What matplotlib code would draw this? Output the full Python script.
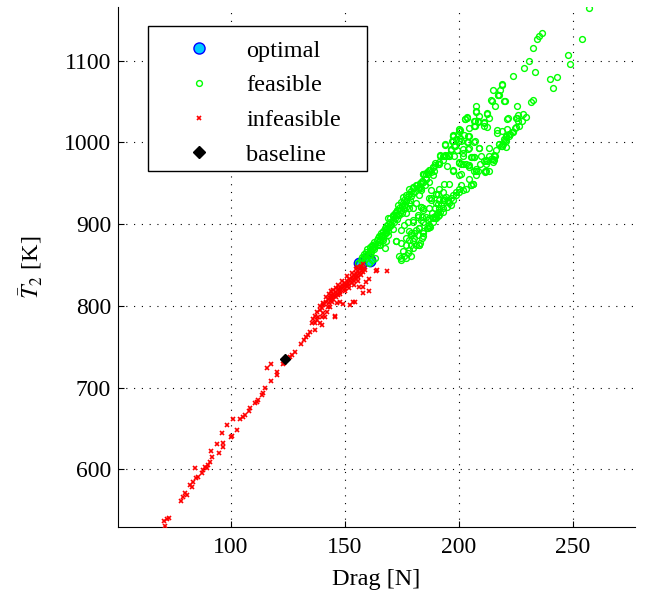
import numpy as np
import matplotlib
matplotlib.use('Agg')
import matplotlib.pyplot as plt
from matplotlib.patches import Rectangle

# values (Drag [N], T2 [K])
optimal_pts = [(156.2, 852.5), (157.3, 851.5), (160.2, 858), (161.0, 856.5), (161.3, 854.5)]

baseline_pts = [(124.0, 735.0)]

feasible_pts = [
    # sparse top end
    (257, 1165), (254, 1127), (236.7, 1133.5), (235.2, 1130), (234.2, 1126.6), (232.8, 1115.7),
    (231.0, 1100), (228.7, 1090.8), (233.5, 1086.7), (248.1, 1106.5), (248.8, 1095.6),
    (223.9, 1081.8), (239.9, 1077.5), (243.2, 1079.9), (241.5, 1066.6), (219.1, 1070.6),
    (218.3, 1064.5), (217.8, 1057.6), (219.8, 1051.2), (232.6, 1051.6), (231.9, 1048.8),
    (225.5, 1044.3), (221.6, 1029.4), (226.1, 1033.1), (228.0, 1035.1), (229.4, 1031),
    (225.5, 1029.4), (227.8, 1026.6), (226.6, 1020.1), (224.6, 1018.2),
    (215.0, 1064.2), (217.4, 1057.6), (214.3, 1052.4), (214.4, 1050.4), (215.7, 1044.3),
    (220.1, 1050.9), (207.8, 1044.3), (207.8, 1037.5), (203.8, 1030.3), (202.9, 1028.2),
    (207.1, 1026.2), (208.6, 1024.9), (210.9, 1025.4), (212.5, 1035.1), (213.4, 1030.3),
    (212.6, 1019.4), (210.9, 1020.1), (207.3, 1020.1), (221.4, 1029), (225.3, 1030.3),
    (225.8, 1026.2), (200.6, 1015.7), (204.5, 1017.3), (199.7, 1010), (200.7, 1004.8),
    (201.0, 1001.9), (202.3, 1008.8), (204.2, 1007.3), (201.7, 992), (204.5, 993.1),
    (197.3, 1008), (197.1, 1001.9), (203.8, 1000), (207.1, 1001.9), (209.0, 993.1),
    (213.2, 993.1), (216.7, 1015.7), (216.9, 1010.9), (219.2, 1013.7), (221.4, 1016.1),
    (222.7, 1010), (223.6, 1012.1), (220.9, 1006.4), (220.4, 1003.1), (219.4, 998),
    (217.8, 998), (218.5, 995.5), (220.9, 994.7), (225.3, 1019.4),
    (207.6, 1038.2), (202.9, 1029), (203.5, 1031), (206.8, 1026.2), (208.3, 1026.2),
    (206.8, 1020.1), (209.0, 1032.2), (212.6, 1036.3), (211.2, 1024.2), (218.9, 1071.4),
    (217.3, 1057.6), (223.3, 1012.9), (222.1, 1010), (220.7, 1008), (219.9, 1004),
    (218.8, 996), (215.6, 983.8), (214.1, 979.8), (215.1, 975.8), (212.6, 977.7),
    (212.0, 973.7), (213.4, 965.6), (211.6, 963.6), (207.6, 967.7), (209.3, 973.7),
    (205.4, 981.8), (206.5, 981.8), (207.6, 959.6), (204.6, 969.7), (203.2, 973.7),
    (201.7, 983.8), (203.9, 992), (209.0, 992.8), (222.1, 1008), (218.9, 995.9),
    (220.7, 1001.9), (217.8, 998),
    # lower branch
    (194.0, 997.1), (198.2, 995.1), (199.1, 990.7), (191.6, 983.8), (193.7, 983.8),
    (195.6, 983.8), (197.8, 983), (202.1, 986.7), (189.6, 974.6), (188.6, 969.7),
    (187.3, 966.5), (185.7, 961.6), (184.2, 961.6), (195.0, 970.9), (197.5, 966.1),
    (200.0, 975), (201.0, 973.7), (204.1, 972.9), (205.9, 981.8), (206.8, 981.8),
    (207.6, 965.6), (209.6, 983.8), (212.0, 978.2), (213.4, 983.8), (215.9, 983.8),
    (215.3, 978.2), (211.6, 964.4), (200.3, 1014), (204.6, 1008), (203.9, 1000.7),
    (206.8, 1000.7), (197.3, 1008.8), (197.6, 1001.9), (194.1, 998), (200.3, 1001.9),
    (196.6, 991.1), (195.2, 984.6), (194.1, 984.6), (191.9, 984.6), (193.0, 979),
    (191.5, 973.7), (189.8, 972.5), (187.1, 966.8), (186.0, 963.6), (184.5, 961.6),
    (185.7, 955.6), (184.2, 951.6), (183.5, 944.3), (185.4, 947.5), (186.8, 951.6),
    (188.9, 960.4), (189.3, 965.6), (197.3, 965.6), (200.3, 975.8), (201.7, 973.7),
    (204.6, 972.9), (206.8, 965.6), (208.3, 965.6), (211.2, 977), (215.1, 979.8),
    (215.6, 984.6), (216.3, 991.1), (212.0, 964.4), (205.4, 947.5), (206.1, 949.5),
    (204.6, 955.6), (201.0, 947.5), (200.0, 943.5), (198.8, 939.5), (197.3, 935.4),
    (196.6, 931.4), (195.2, 929.3), (193.7, 929.3), (195.9, 925.3), (194.7, 921.3),
    (193.0, 919.2), (191.8, 915.3), (190.8, 910.4), (189.8, 908), (188.6, 907.1),
    (188.3, 913.2), (189.8, 919.2), (190.8, 924.1), (187.9, 929.3), (190.1, 937.4),
    (185.7, 909.2), (184.0, 909.2), (183.5, 921.3), (187.5, 897.1), (186.4, 895),
    (184.2, 889), (184.0, 882.9), (183.1, 876.9),
    (174.8, 856.7), (176.2, 860.8), (177.7, 864.8), (178.4, 868.8), (179.1, 874.8),
    (179.8, 878.9), (180.6, 882.9), (182.0, 886.9), (182.8, 895), (184.2, 891),
    (186.0, 895), (187.1, 899), (188.6, 903.1), (190.1, 907.1), (191.5, 911.1),
    (193.0, 915.3), (174.0, 860.8), (177.0, 858.7), (179.1, 860.8), (181.3, 874.8),
    (182.8, 874.8), (184.2, 885), (174.8, 876.9), (172.6, 878.9), (177.0, 882.9),
    (179.1, 889), (177.7, 903.1), (179.8, 905.1), (183.5, 905.1), (186.4, 905.1),
    (182.0, 911.1), (176.2, 899), (174.8, 893), (181.3, 925.3), (184.2, 917.2),
    (187.1, 919.2), (190.1, 925.3), (191.5, 929.3), (191.5, 919.2), (178.4, 919.2),
    (177.0, 913.2), (182.8, 935.4), (187.1, 931.4), (183.5, 941.4), (187.9, 941.4),
    (190.8, 937.4), (193.7, 931.4), (193.0, 939.5),
    # upper branch
    (165.3, 874.8), (166.7, 882.9), (168.2, 889), (167.5, 895), (169.7, 899),
    (168.9, 907.1), (171.1, 911.1), (172.6, 915.3), (173.3, 923.2), (174.8, 927.4),
    (175.5, 933.4), (177.0, 935.4), (178.4, 943.5), (179.8, 945.5), (181.3, 947.5),
    (182.8, 945.5), (184.2, 951.6), (185.7, 955.6), (185.0, 961.6), (186.4, 961.6),
    (187.9, 963.6), (188.6, 969.7), (190.8, 973.7), (191.5, 975.8), (193.0, 983.8),
    (194.4, 983.8), (195.9, 983.8), (196.6, 992), (198.1, 996), (198.8, 1004),
    (197.3, 1008), (200.3, 1016.1),
    (206.1, 949.5), (205.4, 947.5), (203.2, 943.5), (201.7, 941.4), (200.3, 939.5),
    (198.8, 935.4), (197.3, 929.3), (196.6, 923.2), (195.2, 927.4), (194.4, 933.4),
    (193.0, 929.3), (192.3, 923.2), (190.8, 915.3), (190.1, 911.1), (188.6, 909.2),
    (187.1, 907.1), (184.2, 903.1), (182.8, 895), (181.3, 893), (180.6, 889),
    (179.1, 886.9), (178.4, 880.9), (177.0, 874.8), (175.5, 866.8), (174.8, 858.7),
    (179.8, 870.8), (182.8, 874.8), (187.1, 897.1), (187.9, 931.4), (190.1, 937.4),
    (191.5, 943.5), (195.9, 949.5), (193.7, 949.5), (200.3, 959.6), (201.0, 961.6),
    (183.5, 921.3), (179.8, 919.2), (184.2, 919.2), (182.0, 909.2), (172.6, 878.9),
    (167.5, 870.8), (168.2, 878.9), (179.8, 903.1), (178.4, 891),
    # dense start of the main band
    (156, 853), (157, 856), (157.5, 860), (158, 858), (158.5, 863), (159, 861), (159.5, 866),
    (160, 864), (160, 869), (160.5, 862), (161, 868), (161, 872), (161.5, 866), (162, 870),
    (162, 875), (162.5, 873), (163, 872), (163, 878), (163.5, 876), (164, 874), (164, 880),
    (164.5, 883), (165, 878), (165, 885), (165.5, 881), (166, 884), (166, 889), (166.5, 887),
    (167, 885), (167, 892), (167.5, 889), (168, 893), (168, 898), (168.5, 895), (169, 892),
    (169, 900), (169.5, 897), (170, 902), (170, 907), (170.5, 899), (171, 905), (171, 910),
    (171.5, 903), (172, 908), (172, 914), (172.5, 911), (173, 906), (173, 917), (173.5, 913),
    (174, 920), (174, 911), (174.5, 917), (175, 922), (175, 914), (175.5, 926), (176, 919),
    (176, 930), (176.5, 924), (177, 928), (177, 921), (177.5, 933), (178, 926), (178, 937),
    (178.5, 930), (179, 940), (179, 934), (180, 938), (180, 944), (181, 941), (181.5, 948),
    (182, 944), (183, 950), (183, 946), (184, 953), (159, 857), (161, 863), (163, 869),
    (165, 874), (167, 880), (169, 887), (171, 894), (162, 856), (163.5, 858), (160.5, 852.5),
]

infeasible_pts = [
    (71.2, 530.5), (70.7, 537), (71.9, 538.7), (73.1, 541.1), (78.1, 561.4), (79.2, 566.3),
    (80.7, 568.4), (80.0, 570.5), (82.2, 580.7), (82.9, 578.6), (83.6, 584.7), (84.8, 588.9),
    (85.8, 590.8), (84.3, 601.8), (87.3, 595), (88.0, 599), (88.7, 603.1), (89.5, 601.1),
    (90.2, 605.1), (91.0, 609.2), (91.7, 615.3), (91.4, 622.6), (95.0, 620.2), (94.1, 630.8),
    (96.5, 627.5), (96.8, 632.4), (96.1, 644.7), (98.5, 654.1), (100.0, 639.8), (100.4, 640.6),
    (102.6, 648), (100.9, 661.1), (104.1, 661.1), (105.5, 663.5), (106.3, 666.4), (108.5, 674.5),
    (108.2, 671.6), (110.7, 680.6), (111.4, 682.6), (112.1, 684.7), (113.6, 690.8), (114.0, 693.6),
    (115.0, 699), (117.5, 708.3), (115.8, 723.5), (117.5, 728.4), (120.2, 719.4), (120.2, 715.3),
    (122.8, 728.4), (123.4, 730.4), (126.0, 737), (126.8, 739.8), (128.2, 743.8), (130.7, 752.9),
    (132.1, 758.1), (132.9, 762.2), (134.0, 764.3), (134.8, 768.3), (137.0, 778.6), (137.7, 782.6),
    (139.2, 779.3), (139.9, 785.9), (141.4, 786.7), (142.1, 792.8), (140.4, 801), (143.6, 798.9),
    (144.3, 805), (146.5, 803), (148.0, 805), (145.7, 787.5), (152.3, 801), (153.8, 805),
    (164.0, 843.8), (160.8, 832.4), (159.3, 829.5), (156.4, 822.6), (160.8, 818.5),
    (158.2, 816), (154.5, 805), (149.4, 802.2), (145.7, 786.7), (142.8, 798.2),
    (140.6, 803), (140.6, 790.8), (138.4, 786.7), (137.0, 770.4), (135.5, 779.3),
    (139.9, 776.5), (168.7, 843), (163.7, 843), (158.2, 823.4),
    (141, 802), (142, 805), (142.5, 808), (143, 804), (143.5, 810), (144, 807), (144, 813),
    (144.5, 811), (145, 809), (145, 815), (145.5, 812), (146, 817), (146, 811), (146.5, 815),
    (147, 819), (147, 813), (147.5, 821), (148, 817), (148, 823), (148.5, 819), (149, 822),
    (149, 826), (149.5, 824), (150, 821), (150, 828), (150.5, 826), (151, 824), (151, 830),
    (151.5, 828), (152, 826), (152, 833), (152.5, 830), (153, 828), (153, 835), (153.5, 832),
    (154, 830), (154, 838), (154.5, 835), (155, 833), (155, 840), (155.5, 837), (156, 835),
    (156, 843), (156.5, 840), (157, 838), (157, 846), (157.5, 843), (158, 841), (158.5, 846),
    (159, 844), (155, 845), (153, 840), (151, 836), (149, 831), (147, 826), (145, 820),
    (143, 815), (146, 822), (148, 814), (150, 818), (152, 822), (154, 826), (156, 830),
    (144, 818), (142, 811), (139, 795), (138, 792), (140, 797), (137, 788), (136, 784),
    (139, 800), (157, 849), (158, 851), (155.5, 848),
]

x_ticks = [100, 150, 200, 250]
y_ticks = [600, 700, 800, 900, 1000, 1100]


def main():
    plt.rcParams['font.family'] = ['Liberation Serif', 'DejaVu Serif']
    plt.rcParams['mathtext.fontset'] = 'stix'

    opt = np.array(optimal_pts)
    feas = np.array(feasible_pts)
    infeas = np.array(infeasible_pts)
    base = np.array(baseline_pts)

    fig = plt.figure(figsize=(6.53, 5.93), dpi=100)
    ax = fig.add_axes([0.1807, 0.1113, 0.7917, 0.877])

    ax.plot(opt[:, 0], opt[:, 1], 'o', ms=7.5, mfc='#00ccff', mec='blue', mew=1.0,
            ls='none', label='optimal', zorder=2)
    ax.plot(feas[:, 0], feas[:, 1], 'o', ms=4.2, mfc='none', mec='#00ff00', mew=1.0,
            ls='none', label='feasible', zorder=3)
    ax.plot(infeas[:, 0], infeas[:, 1], 'x', ms=3.5, color='red', mew=1.2,
            ls='none', label='infeasible', zorder=3)
    ax.plot(base[:, 0], base[:, 1], 'D', ms=5, color='black',
            ls='none', label='baseline', zorder=4)

    ax.set_xlim(50.6, 277.3)
    ax.set_ylim(529.5, 1165.7)
    ax.set_xticks(x_ticks)
    ax.set_yticks(y_ticks)
    ax.tick_params(direction='in', length=4, labelsize=17, width=0.8)
    ax.tick_params(axis='x', pad=7)
    ax.tick_params(axis='y', pad=5)
    ax.spines['top'].set_visible(False)
    ax.spines['right'].set_visible(False)
    ax.grid(True, color='black', linestyle=(0, (1, 6)), linewidth=0.8)

    ax.set_xlabel('Drag [N]', fontsize=17.5, labelpad=8)
    ax.set_ylabel(r'$\bar{T}_2$ [K]', fontsize=17.5, labelpad=14)

    # legend box drawn by hand, entries placed inside it
    ax.add_patch(Rectangle((0.058, 0.6846), 0.4236, 0.2789, transform=ax.transAxes,
                           facecolor='white', edgecolor='black', lw=1.0, zorder=5))
    leg = ax.legend(loc='upper left', bbox_to_anchor=(0.1095, 0.937), borderaxespad=0,
                    borderpad=0, frameon=False, fontsize=17.5,
                    handlelength=2.0, handletextpad=0.95, labelspacing=0.52)
    leg.set_zorder(6)
    for h in leg.legend_handles:
        if h.get_label() == 'optimal':
            h.set_markersize(8)
        elif h.get_label() == 'baseline':
            h.set_markersize(6.5)

    fig.savefig('out.png', dpi=100)


if __name__ == '__main__':
    main()
